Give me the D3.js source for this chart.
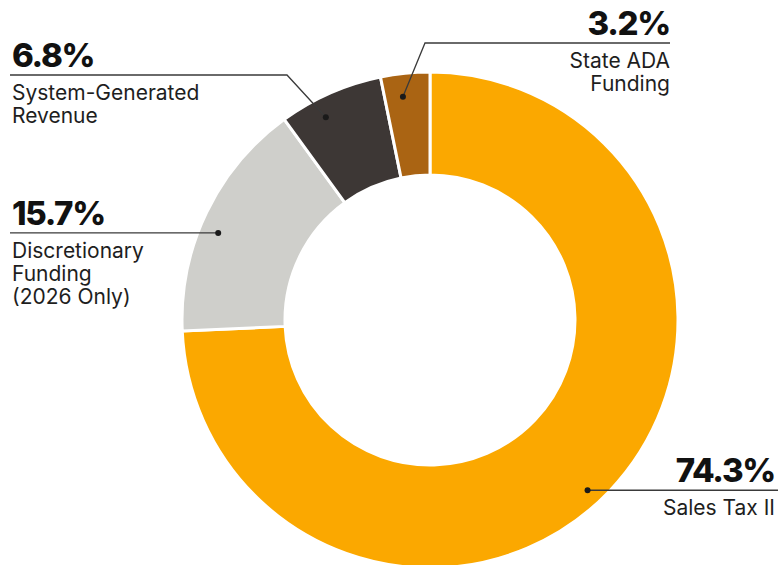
<!DOCTYPE html>
<html>
<head>
<meta charset="utf-8">
<script src="https://cdn.jsdelivr.net/npm/d3@7"></script>
<style>
  html, body { margin: 0; padding: 0; background: #fff; }
  svg { display: block; }
</style>
</head>
<body>
<svg id="chart" width="783" height="565"></svg>
<script>
// ---- data ----
const categories = ["Sales Tax II", "Discretionary Funding (2026 Only)", "System-Generated Revenue", "State ADA Funding"];
const shares = [74.3, 15.7, 6.8, 3.2];
const pctLabels = ["74.3%", "15.7%", "6.8%", "3.2%"];
const labelLines = [["Sales Tax II"], ["Discretionary", "Funding", "(2026 Only)"], ["System-Generated", "Revenue"], ["State ADA", "Funding"]];
const colors = ["#FBA800", "#CFCFCB", "#3D3735", "#AA6413"];

// ---- layout ----
const W = 783, H = 565;
const cx = 430, cy = 320, R = 248, r = 145;
// per-slice label layout: dot position within slice (fraction of its angle, radius),
// anchor side, line end x, optional elbow point
const layout = [
  { frac: 0.513, dotR: 232, anchor: "end",   lineEnd: 778, textX: 775, elbow: null },
  { frac: 0.44,  dotR: 229, anchor: "start", lineEnd: 10,  textX: 12,  elbow: null },
  { frac: 0.36,  dotR: 228, anchor: "start", lineEnd: 10,  textX: 12,  elbow: [287, 75] },
  { frac: 0.40,  dotR: 225, anchor: "end",   lineEnd: 670, textX: 670, elbow: [425, 43] }
];

const svg = d3.select("#chart");
const g = svg.append("g").attr("transform", `translate(${cx},${cy})`);

const data = categories.map((c, i) => ({ name: c, value: shares[i], i }));
const pie = d3.pie().sort(null).value(d => d.value);
const arcs = pie(data);
const arc = d3.arc().innerRadius(r).outerRadius(R);

g.selectAll("path.slice").data(arcs).join("path")
  .attr("class", "slice")
  .attr("d", arc)
  .attr("fill", d => colors[d.data.i])
  .attr("stroke", "#fff")
  .attr("stroke-width", 3)
  .attr("stroke-linejoin", "miter");

const font = "Inter, 'Noto Sans', sans-serif";

arcs.forEach(a => {
  const i = a.data.i;
  const L = layout[i];
  const ang = a.startAngle + (a.endAngle - a.startAngle) * L.frac;
  const dotArc = d3.arc().innerRadius(L.dotR).outerRadius(L.dotR).startAngle(ang).endAngle(ang);
  const [dx, dy] = dotArc.centroid();
  const px = cx + dx, py = cy + dy;
  const pts = [[px, py]];
  let lineY;
  if (L.elbow) { pts.push(L.elbow); lineY = L.elbow[1]; }
  else { lineY = py; }
  pts.push([L.lineEnd, lineY]);
  svg.append("path")
    .attr("d", d3.line()(pts))
    .attr("fill", "none")
    .attr("stroke", "#3a3a3a")
    .attr("stroke-width", 1.3);
  svg.append("circle").attr("cx", px).attr("cy", py).attr("r", 3).attr("fill", "#1a1a1a");

  svg.append("text")
    .attr("x", L.textX).attr("y", lineY - 8)
    .attr("text-anchor", L.anchor)
    .attr("font-family", font)
    .attr("font-weight", 800)
    .attr("font-size", 33)
    .attr("letter-spacing", -1.3)
    .attr("fill", "#111")
    .text(pctLabels[i]);

  labelLines[i].forEach((t, k) => {
    svg.append("text")
      .attr("x", L.textX).attr("y", lineY + 25 + k * 23)
      .attr("text-anchor", L.anchor)
      .attr("font-family", font)
      .attr("font-size", 21)
      .attr("fill", "#1e1e1e")
      .text(t);
  });
});
</script>
</body>
</html>
